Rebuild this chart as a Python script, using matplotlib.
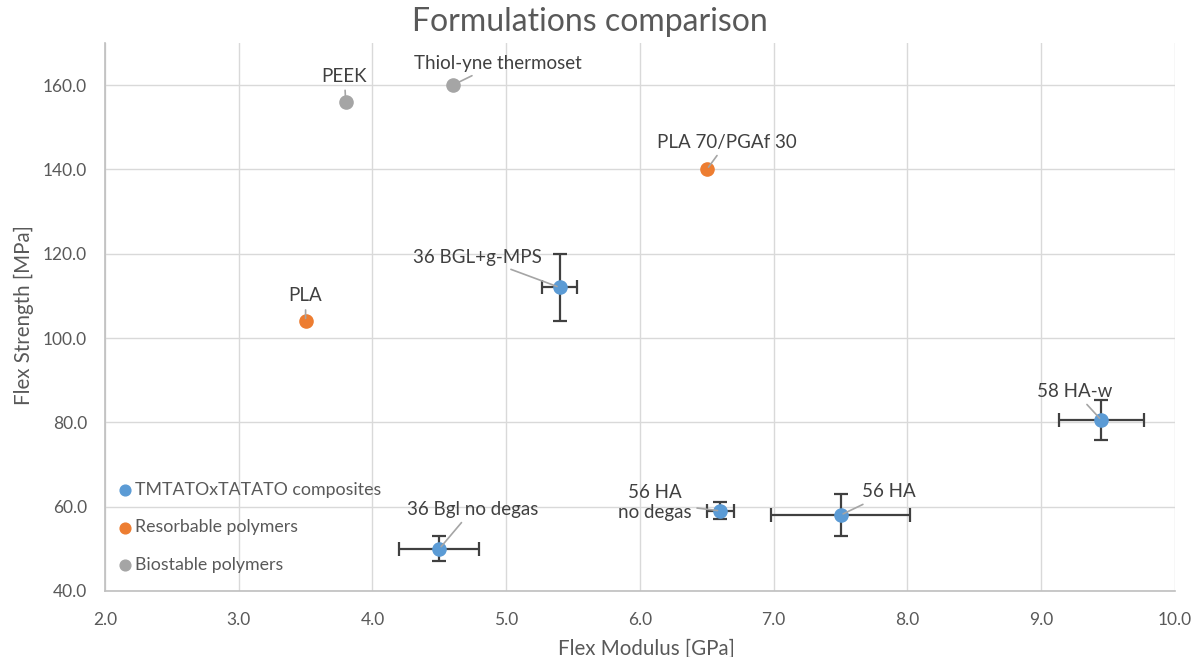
#!/usr/bin/env python3

import matplotlib
matplotlib.use("Agg")
import matplotlib.pyplot as plt

# TMTATOxTATATO composites (with error bars)
comp_names = ["36 BGL+g-MPS", "58 HA-w", "56 HA\nno degas", "56 HA", "36 Bgl no degas"]
comp_modulus = [5.4, 9.45, 6.6, 7.5, 4.5]
comp_strength = [112.0, 80.5, 59.0, 58.0, 50.0]
comp_modulus_err = [0.13, 0.32, 0.1, 0.52, 0.3]
comp_strength_err = [8.0, 4.7, 2.0, 5.0, 3.0]

# Resorbable polymers
res_names = ["PLA", "PLA 70/PGAf 30"]
res_modulus = [3.5, 6.5]
res_strength = [104.0, 140.0]

# Biostable polymers
bio_names = ["PEEK", "Thiol-yne thermoset"]
bio_modulus = [3.8, 4.6]
bio_strength = [156.0, 160.0]

x_ticks = [2, 3, 4, 5, 6, 7, 8, 9, 10]
y_ticks = [40, 60, 80, 100, 120, 140, 160]

# label positions (data coords) and alignment
label_pos = {
    "36 BGL+g-MPS": (5.27, 119.2, "right"),
    "58 HA-w": (9.25, 87.4, "center"),
    "56 HA\nno degas": (6.11, 60.9, "center"),
    "56 HA": (7.66, 63.5, "left"),
    "36 Bgl no degas": (4.75, 59.4, "center"),
    "PLA": (3.5, 110.0, "center"),
    "PLA 70/PGAf 30": (6.65, 146.5, "center"),
    "PEEK": (3.79, 162.1, "center"),
    "Thiol-yne thermoset": (4.935, 165.2, "center"),
}

plt.rcParams["font.family"] = ["Lato", "DejaVu Sans"]
TXT = "#595959"
BLUE, ORANGE, GRAY = "#5B9BD5", "#ED7D31", "#A5A5A5"

fig = plt.figure(figsize=(11.98, 6.57), dpi=100)
ax = fig.add_axes([0.0876, 0.1005, 0.8932, 0.8341])

ax.errorbar(comp_modulus, comp_strength, xerr=comp_modulus_err, yerr=comp_strength_err,
            fmt="none", ecolor="#404040", elinewidth=1.6, capsize=5, capthick=1.6, zorder=3)
ax.scatter(comp_modulus, comp_strength, s=90, color=BLUE, zorder=4, label="TMTATOxTATATO composites")
ax.scatter(res_modulus, res_strength, s=90, color=ORANGE, zorder=4, label="Resorbable polymers")
ax.scatter(bio_modulus, bio_strength, s=90, color=GRAY, zorder=4, label="Biostable polymers")

all_names = comp_names + res_names + bio_names
all_x = comp_modulus + res_modulus + bio_modulus
all_y = comp_strength + res_strength + bio_strength
for name, px, py in zip(all_names, all_x, all_y):
    tx, ty, ha = label_pos[name]
    ax.annotate(name, xy=(px, py), xytext=(tx, ty), ha=ha, va="center",
                fontsize=13.5, color="#404040", zorder=5,
                arrowprops=dict(arrowstyle="-", color="#A5A5A5", lw=1.2,
                                shrinkA=2, shrinkB=2))

ax.set_xlim(2, 10)
ax.set_ylim(40, 170)
ax.set_xticks(x_ticks)
ax.set_yticks(y_ticks)
ax.set_xticklabels([f"{v:.1f}" for v in x_ticks])
ax.set_yticklabels([f"{v:.1f}" for v in y_ticks])
ax.tick_params(colors=TXT, labelsize=12.5, length=0)
ax.tick_params(axis="x", pad=15)
ax.tick_params(axis="y", pad=13)
ax.grid(True, color="#D9D9D9", lw=1)
ax.set_axisbelow(True)
for s in ["top", "right"]:
    ax.spines[s].set_visible(False)
for s in ["left", "bottom"]:
    ax.spines[s].set_color("#BFBFBF")
    ax.spines[s].set_linewidth(1.2)

ax.set_xlabel("Flex Modulus [GPa]", fontsize=14.8, color=TXT)
ax.set_ylabel("Flex Strength [MPa]", fontsize=14.8, color=TXT)
ax.xaxis.set_label_coords(0.5065, -0.087)
ax.yaxis.set_label_coords(-0.066, 0.504)
fig.text(0.492, 1 - 22 / 657, "Formulations comparison", fontsize=23, color=TXT,
         ha="center", va="center")

leg = ax.legend(loc="upper left", bbox_to_anchor=(0.0, 0.219), frameon=False,
                fontsize=12.8, handletextpad=0.1, handlelength=1.0, labelspacing=1.22,
                borderaxespad=0.2)
for t in leg.get_texts():
    t.set_color(TXT)
for h in leg.legend_handles:
    h.set_sizes([60])

fig.savefig("out.png", dpi=100)
